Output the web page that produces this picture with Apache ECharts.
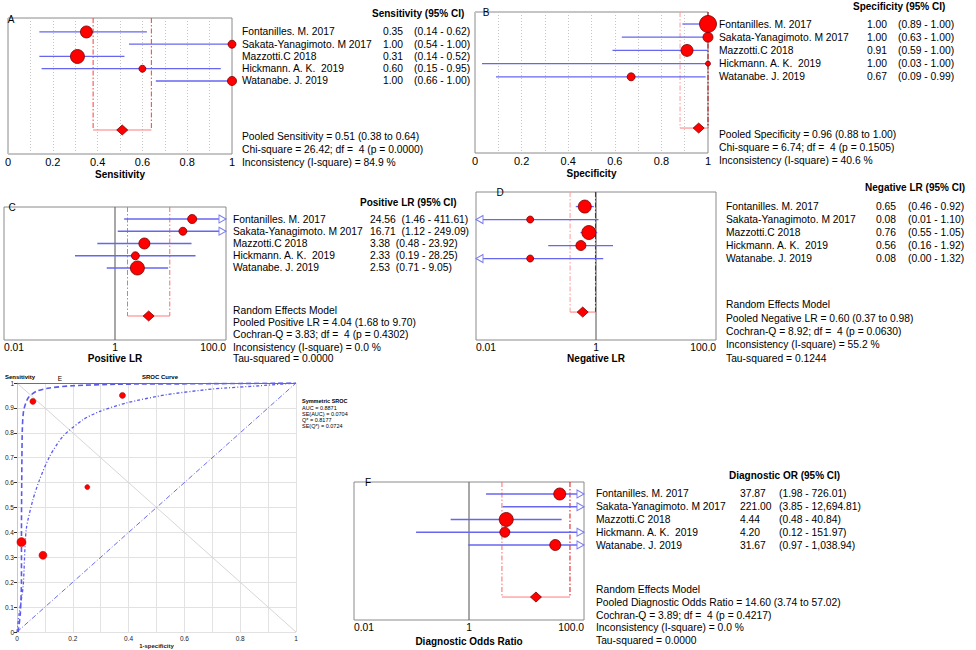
<!DOCTYPE html>
<html><head><meta charset="utf-8">
<script src="https://cdn.jsdelivr.net/npm/echarts@6/dist/echarts.min.js"></script>
<style>html,body{margin:0;padding:0;background:#fff}#c{width:976px;height:650px}</style>
</head><body><div id="c"></div>
<script>
// ---------------- DATA ----------------
const studies = ['Fontanilles. M. 2017','Sakata-Yanagimoto. M 2017','Mazzotti.C 2018','Hickmann. A. K.  2019','Watanabe. J. 2019'];

const sens    = [0.35, 1.00, 0.31, 0.60, 1.00];
const sensLo  = [0.14, 0.54, 0.14, 0.15, 0.66];
const sensHi  = [0.62, 1.00, 0.52, 0.95, 1.00];
const sensW   = [12, 8, 14, 7, 9];
const sensPooled = [0.51, 0.38, 0.64];

const spec    = [1.00, 1.00, 0.91, 1.00, 0.67];
const specLo  = [0.89, 0.63, 0.59, 0.03, 0.09];
const specHi  = [1.00, 1.00, 1.00, 1.00, 0.99];
const specW   = [17, 10, 12, 5, 8];
const specPooled = [0.96, 0.88, 1.00];

const plr     = [24.56, 16.71, 3.38, 2.33, 2.53];
const plrLo   = [1.46, 1.12, 0.48, 0.19, 0.71];
const plrHi   = [411.61, 249.09, 23.92, 28.25, 9.05];
const plrW    = [9, 8, 11, 8, 14];
const plrPooled = [4.04, 1.68, 9.70];

const nlr     = [0.65, 0.08, 0.76, 0.56, 0.08];
const nlrLo   = [0.46, 0.01, 0.55, 0.16, 0.00];
const nlrHi   = [0.92, 1.10, 1.05, 1.92, 1.32];
const nlrW    = [13, 7, 14, 10, 7];
const nlrPooled = [0.60, 0.37, 0.98];

const dor     = [37.87, 221.00, 4.44, 4.20, 31.67];
const dorLo   = [1.98, 3.85, 0.48, 0.12, 0.97];
const dorHi   = [726.01, 12694.81, 40.84, 151.97, 1038.94];
const dorW    = [12, 10, 14, 10, 11];
const dorPooled = [14.60, 3.74, 57.02];

const linTickValues = [0, 0.2, 0.4, 0.6, 0.8, 1];
const linTickLabels = ['0', '0.2', '0.4', '0.6', '0.8', '1'];
const logTickValues = [0.01, 1, 100];
const logTickLabels = ['0.01', '1', '100.0'];

const sensStats = ['Pooled Sensitivity = 0.51 (0.38 to 0.64)', 'Chi-square = 26.42; df =  4 (p = 0.0000)', 'Inconsistency (I-square) = 84.9 %'];
const specStats = ['Pooled Specificity = 0.96 (0.88 to 1.00)', 'Chi-square = 6.74; df =  4 (p = 0.1505)', 'Inconsistency (I-square) = 40.6 %'];
const plrStats  = ['Random Effects Model', 'Pooled Positive LR = 4.04 (1.68 to 9.70)', 'Cochran-Q = 3.83; df =  4 (p = 0.4302)', 'Inconsistency (I-square) = 0.0 %', 'Tau-squared = 0.0000'];
const nlrStats  = ['Random Effects Model', 'Pooled Negative LR = 0.60 (0.37 to 0.98)', 'Cochran-Q = 8.92; df =  4 (p = 0.0630)', 'Inconsistency (I-square) = 55.2 %', 'Tau-squared = 0.1244'];
const dorStats  = ['Random Effects Model', 'Pooled Diagnostic Odds Ratio = 14.60 (3.74 to 57.02)', 'Cochran-Q = 3.89; df =  4 (p = 0.4217)', 'Inconsistency (I-square) = 0.0 %', 'Tau-squared = 0.0000'];

// SROC (1-specificity, sensitivity)
const srocPtsX = [0.057, 0.378, 0.252, 0.016, 0.093];
const srocPtsY = [0.926, 0.950, 0.582, 0.361, 0.308];
const srocPtsW = [6, 6, 5, 9, 8];
const srocCurveX = [0.000, 0.008, 0.022, 0.033, 0.057, 0.081, 0.117, 0.165, 0.237, 0.297, 0.392, 0.536, 0.703, 0.871, 1.0];
const srocCurveY = [0.000, 0.076, 0.183, 0.411, 0.531, 0.612, 0.705, 0.786, 0.853, 0.886, 0.920, 0.953, 0.976, 0.989, 1.0];
const srocOuterX = [0.004, 0.012, 0.016, 0.016, 0.017, 0.019, 0.024, 0.040, 0.070, 0.117, 0.200, 0.356, 0.655, 1.0];
const srocOuterY = [0.000, 0.076, 0.210, 0.410, 0.610, 0.810, 0.890, 0.940, 0.967, 0.980, 0.989, 0.995, 0.997, 1.0];
const srocStats = ['AUC = 0.8871', 'SE(AUC) = 0.0704', 'Q* = 0.8177', 'SE(Q*) = 0.0724'];
const srocXLabels = ['0', '0.2', '0.4', '0.6', '0.8', '1'];
const srocYLabels = ['0', '0.1', '0.2', '0.3', '0.4', '0.5', '0.6', '0.7', '0.8', '0.9', '1'];

// ---------------- LAYOUT / STYLE ----------------
const FONT = '"Liberation Sans", Arial, sans-serif';
const CI_COLOR = '#6666f0';
const ARROW_COLOR = '#7c7cf2';
const ARROW_R = 'path://M0,0 L8,4.5 L0,9 Z';
const ARROW_L = 'path://M8,0 L0,4.5 L8,9 Z';

const panels = [
  { key:'A', log:false, est:sens, lo:sensLo, hi:sensHi, w:sensW, pooled:sensPooled, stats:sensStats,
    header:'Sensitivity (95% CI)', axisName:'Sensitivity',
    L:{left:8, top:18, width:224, height:136, yMin:-1.14, yMax:9.96, pooledRow:8.0, nameGap:15,
       label:[11,19], nameX:242, valX:383, ciX:414, headerXY:[372,13], statsY:[136,149,162]},
    loColor:'#ff3b3b', hiColor:'#ff3b3b' },
  { key:'B', log:false, est:spec, lo:specLo, hi:specHi, w:specW, pooled:specPooled, stats:specStats,
    header:'Specificity (95% CI)', axisName:'Specificity',
    L:{left:475, top:12, width:233, height:141, yMin:-0.91, yMax:9.77, pooledRow:7.88, nameGap:15,
       label:[486,12], nameX:719, valX:867, ciX:898, headerXY:[853,6], statsY:[134,147,160]},
    loColor:'#ff9a9a', hiColor:'#b00000' },
  { key:'C', log:true, est:plr, lo:plrLo, hi:plrHi, w:plrW, pooled:plrPooled, stats:plrStats,
    header:'Positive LR (95% CI)', axisName:'Positive LR',
    L:{left:4, top:207, width:222, height:133, yMin:-0.98, yMax:9.88, pooledRow:7.92, nameGap:13,
       label:[12,207], nameX:233, valX:370, ciX:null, headerXY:[360,202], statsY:[310,322,334,347,358]},
    loColor:'#ff6a6a', hiColor:'#ff6a6a' },
  { key:'D', log:true, est:nlr, lo:nlrLo, hi:nlrHi, w:nlrW, pooled:nlrPooled, stats:nlrStats,
    header:'Negative LR (95% CI)', axisName:'Negative LR',
    L:{left:476, top:192, width:240, height:148, yMin:-1.12, yMax:10.27, pooledRow:8.12, nameGap:13,
       label:[500,192], nameX:726, valX:876, ciX:908, headerXY:[865,187], statsY:[304,318,331,344,358]},
    loColor:'#ff9a9a', hiColor:'#a01010' },
  { key:'F', log:true, est:dor, lo:dorLo, hi:dorHi, w:dorW, pooled:dorPooled, stats:dorStats,
    header:'Diagnostic OR (95% CI)', axisName:'Diagnostic Odds Ratio',
    L:{left:354, top:482, width:230, height:138, yMin:-0.94, yMax:9.88, pooledRow:8.08, nameGap:16,
       label:[368,482], nameX:596, valX:740, ciX:779, headerXY:[729,475], statsY:[589,602,615,627,640]},
    loColor:'#ff6a6a', hiColor:'#e01010' }
];

const grids = [], xAxes = [], yAxes = [], series = [], graphics = [];

function addText(x, y, text, o) {
  o = o || {};
  graphics.push({ type:'text', x:x, y:y, silent:true, z:10,
    style:{ text:text, fill:'#000', fontFamily:FONT, fontSize:o.size || 10.3, fontWeight:o.bold ? 'bold' : 'normal',
            align:o.align || 'left', verticalAlign:o.va || 'middle' } });
}
function fmt(v) { return v.toLocaleString('en-US', {minimumFractionDigits:2, maximumFractionDigits:2}); }

panels.forEach(function (p, idx) {
  const L = p.L;
  const xmin = p.log ? 0.01 : 0, xmax = p.log ? 100 : 1;
  const clamp = v => Math.min(Math.max(v, xmin), xmax);
  grids.push({ left:L.left, top:L.top, width:L.width, height:L.height, show:true,
    borderColor:'#8a8a8a', borderWidth:1, backgroundColor:'rgba(0,0,0,0)', containLabel:false, outerBoundsMode:'none' });
  const nameStyle = { fontWeight:'bold', fontSize:10, color:'#000', fontFamily:FONT };
  if (p.log) {
    xAxes.push({ type:'log', logBase:10, min:0.01, max:100, gridIndex:idx,
      axisLine:{show:false, onZero:false}, axisTick:{show:false}, splitLine:{show:false}, minorTick:{show:false}, minorSplitLine:{show:false},
      axisLabel:{ margin:2, fontSize:10.3, color:'#000', fontFamily:FONT, showMinLabel:true, showMaxLabel:true,
        alignMinLabel:'left', alignMaxLabel:'right',
        formatter: function (v) {
          const e = Math.log10(v);
          const j = logTickValues.findIndex(t => Math.abs(Math.log10(t) - e) < 1e-6);
          return j >= 0 ? logTickLabels[j] : '';
        } },
      name:p.axisName, nameLocation:'middle', nameGap:L.nameGap, nameTextStyle:nameStyle });
  } else {
    xAxes.push({ type:'value', min:0, max:1, interval:0.1, gridIndex:idx,
      axisLine:{show:false, onZero:false}, axisTick:{show:false},
      splitLine:{show:true, lineStyle:{color:'#c4c4c4', type:[1,2], width:1}},
      axisLabel:{ margin:2, fontSize:11, color:'#000', fontFamily:FONT, showMinLabel:true, showMaxLabel:true,
        formatter: function (v) {
          const j = linTickValues.findIndex(t => Math.abs(t - v) < 1e-6);
          return j >= 0 ? linTickLabels[j] : '';
        } },
      name:p.axisName, nameLocation:'middle', nameGap:L.nameGap, nameTextStyle:nameStyle });
  }
  yAxes.push({ type:'value', gridIndex:idx, min:L.yMin, max:L.yMax, inverse:true, show:false, axisLine:{show:false, onZero:false} });

  if (p.log) {
    series.push({ type:'line', xAxisIndex:idx, yAxisIndex:idx, silent:true, symbol:'none', z:1,
      data:[[1, L.yMin], [1, L.yMax]], lineStyle:{color:'#6e6e6e', width:1.2, type:'solid'} });
  }
  series.push({ type:'line', xAxisIndex:idx, yAxisIndex:idx, silent:true, symbol:'none', z:2,
    data:[[p.pooled[1], L.yMin], [p.pooled[1], L.pooledRow]], lineStyle:{color:p.loColor, width:1, type:[5,2,1.5,2]} });
  series.push({ type:'line', xAxisIndex:idx, yAxisIndex:idx, silent:true, symbol:'none', z:2,
    data:[[p.pooled[2], L.yMin], [p.pooled[2], L.pooledRow]], lineStyle:{color:p.hiColor, width:1, type:[5,2,1.5,2]} });
  series.push({ type:'line', xAxisIndex:idx, yAxisIndex:idx, silent:true, symbol:'none', z:2,
    data:[[p.pooled[1], L.pooledRow], [p.pooled[2], L.pooledRow]], lineStyle:{color:'#ff7a7a', width:1, type:'solid'} });

  // CI lines drawn as thin filled rectangles, above the reference lines
  series.push({ type:'custom', xAxisIndex:idx, yAxisIndex:idx, silent:true, clip:false, z:7,
    data: p.est.map((e, i) => [clamp(p.lo[i]), clamp(p.hi[i]), i]),
    encode:{x:[0,1], y:2},
    renderItem: function (params, api) {
      const a = api.coord([api.value(0), api.value(2)]);
      const b = api.coord([api.value(1), api.value(2)]);
      return { type:'rect', z2:5, shape:{x:a[0], y:a[1] - 0.65, width:b[0] - a[0], height:1.3},
               style:{fill:CI_COLOR, stroke:CI_COLOR, lineWidth:0.01} };
    } });
  if (p.log) {
    const rightArrows = [], leftArrows = [];
    p.est.forEach(function (e, i) {
      if (p.hi[i] > xmax) rightArrows.push([xmax, i]);
      if (p.lo[i] <= xmin + 1e-9) leftArrows.push([xmin, i]);
    });
    if (rightArrows.length) series.push({ type:'scatter', xAxisIndex:idx, yAxisIndex:idx, silent:true, clip:false, z:8,
      symbol:ARROW_R, symbolSize:[7, 8], symbolOffset:[-3.5, 0], data:rightArrows,
      itemStyle:{color:'#ffffff', borderColor:ARROW_COLOR, borderWidth:1, opacity:1} });
    if (leftArrows.length) series.push({ type:'scatter', xAxisIndex:idx, yAxisIndex:idx, silent:true, clip:false, z:8,
      symbol:ARROW_L, symbolSize:[7, 8], symbolOffset:[3.5, 0], data:leftArrows,
      itemStyle:{color:'#ffffff', borderColor:ARROW_COLOR, borderWidth:1, opacity:1} });
  }

  series.push({ type:'scatter', xAxisIndex:idx, yAxisIndex:idx, silent:true, clip:false, z:9,
    data: p.est.map((e, i) => (e >= xmin && e <= xmax) ? { value:[e, i], symbolSize:p.w[i] } : null).filter(Boolean),
    itemStyle:{ color:'#ff0000', borderColor:'#780000', borderWidth:0.8, opacity:1 } });

  series.push({ type:'scatter', xAxisIndex:idx, yAxisIndex:idx, silent:true, clip:false, z:9,
    symbol:'diamond', symbolSize:[11, 10],
    data:[[p.pooled[0], L.pooledRow]],
    itemStyle:{ color:'#ff0000', borderColor:'#780000', borderWidth:0.8, opacity:1 } });

  const rowY = i => L.top + (i - L.yMin) / (L.yMax - L.yMin) * L.height;
  addText(L.label[0], L.label[1], p.key, {size:10, align:'center'});
  addText(L.headerXY[0], L.headerXY[1], p.header, {bold:true, size:10});
  studies.forEach(function (s, i) {
    const y = rowY(i);
    const ci = '(' + fmt(p.lo[i]) + ' - ' + fmt(p.hi[i]) + ')';
    addText(L.nameX, y, s);
    if (L.ciX === null) {
      addText(L.valX, y, fmt(p.est[i]) + '\u00a0\u00a0' + ci);
    } else {
      addText(L.valX, y, fmt(p.est[i]));
      addText(L.ciX, y, ci);
    }
  });
  p.stats.forEach((t, k) => addText(L.nameX, L.statsY[k], t));
});

// ---------------- SROC panel ----------------
const gi = panels.length;
grids.push({ left:17, top:383, width:279, height:249, show:false, containLabel:false, outerBoundsMode:'none' });
const smallLbl = { fontSize:6.5, color:'#222', fontFamily:FONT, showMinLabel:true, showMaxLabel:true };
xAxes.push({ type:'value', gridIndex:gi, min:0, max:1, interval:0.1,
  axisLine:{show:false}, axisTick:{show:false},
  splitLine:{show:true, lineStyle:{color:'#e2e2e2', width:1}},
  axisLabel: Object.assign({ margin:3, formatter: v => { const j = Math.round(v * 10); return j % 2 === 0 ? srocXLabels[j / 2] : ''; } }, smallLbl),
  name:'1-specificity', nameLocation:'middle', nameGap:10, nameTextStyle:{fontSize:6, fontWeight:'bold', color:'#222', fontFamily:FONT} });
yAxes.push({ type:'value', gridIndex:gi, min:0, max:1, interval:0.1,
  axisLine:{show:true, lineStyle:{color:'#c8c8c8'}}, axisTick:{show:true, length:3, lineStyle:{color:'#333'}},
  splitLine:{show:true, lineStyle:{color:'#e2e2e2', width:1}},
  axisLabel: Object.assign({ margin:3, formatter: v => srocYLabels[Math.round(v * 10)] }, smallLbl) });

series.push({ type:'line', xAxisIndex:gi, yAxisIndex:gi, silent:true, symbol:'none', z:1,
  data:[[0,1],[1,0]], lineStyle:{color:'#d6d6d6', width:1} });
series.push({ type:'line', xAxisIndex:gi, yAxisIndex:gi, silent:true, symbol:'none', z:2,
  data:[[0,0],[1,1]], lineStyle:{color:'#6a6af0', width:1, type:[5,2,1,2]},
  markLine:{ silent:true, symbol:'none', label:{show:false}, lineStyle:{color:'#707070', width:1.2, type:'solid'}, data:[{yAxis:1}] } });
series.push({ type:'line', xAxisIndex:gi, yAxisIndex:gi, silent:true, symbol:'none', smooth:0.25, z:3,
  data: srocOuterX.map((x, i) => [x, srocOuterY[i]]), lineStyle:{color:'#5a5aee', width:1.6, type:[5,3]} });
series.push({ type:'line', xAxisIndex:gi, yAxisIndex:gi, silent:true, symbol:'none', smooth:0.25, z:3,
  data: srocCurveX.map((x, i) => [x, srocCurveY[i]]), lineStyle:{color:'#5a5aee', width:1.3, type:[3,2,1,2]} });
series.push({ type:'scatter', xAxisIndex:gi, yAxisIndex:gi, silent:true, z:5,
  data: srocPtsX.map((x, i) => ({ value:[x, srocPtsY[i]], symbolSize:srocPtsW[i] })),
  itemStyle:{ color:'#ff0000', borderColor:'#aa0000', borderWidth:0.5, opacity:1 } });

addText(5, 377, 'Sensitivity', {size:6, bold:true});
addText(60, 378, 'E', {size:6.5, align:'center'});
addText(160, 377, 'SROC Curve', {size:6, bold:true, align:'center'});
addText(302, 401, 'Symmetric SROC', {size:5.5, bold:true});
srocStats.forEach((t, k) => addText(302, 407.5 + k * 6, t, {size:5.5}));

const chart = echarts.init(document.getElementById('c'), null, { renderer:'svg', width:976, height:650 });
chart.setOption({
  animation:false,
  backgroundColor:'#ffffff',
  grid:grids, xAxis:xAxes, yAxis:yAxes, series:series, graphic:graphics
});
</script>
</body></html>
